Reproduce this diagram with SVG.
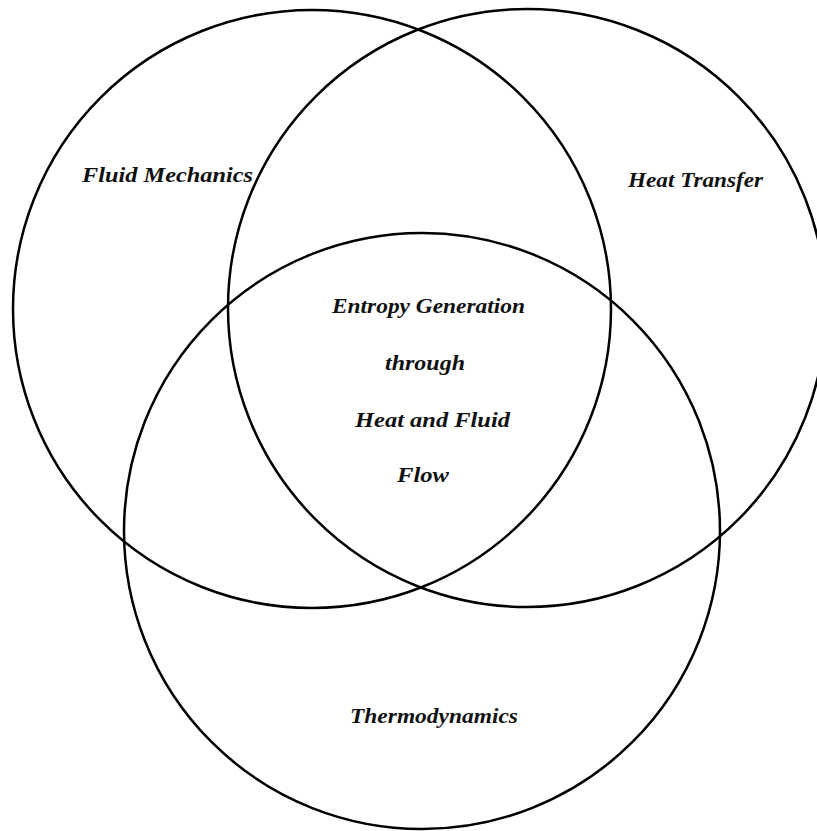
<svg xmlns="http://www.w3.org/2000/svg" width="817" height="831" viewBox="0 0 817 831">
<style>
.c{fill:none;stroke:#000;stroke-width:2.5}
.t{font-family:"Liberation Serif","Times New Roman",serif;font-weight:bold;font-style:italic;font-size:22px;fill:#111}
</style>
<rect width="817" height="831" fill="#fff"/>
<g id="fluid-mechanics">
<circle class="c" cx="312" cy="309" r="299"/>
<text class="t" x="82" y="182" textLength="171" lengthAdjust="spacingAndGlyphs">Fluid Mechanics</text>
</g>
<g id="heat-transfer">
<circle class="c" cx="527" cy="308" r="299"/>
<text class="t" x="628" y="187" textLength="135" lengthAdjust="spacingAndGlyphs">Heat Transfer</text>
</g>
<g id="thermodynamics">
<circle class="c" cx="422" cy="531" r="298"/>
<text class="t" x="350" y="723" textLength="168" lengthAdjust="spacingAndGlyphs">Thermodynamics</text>
</g>
<g id="entropy-generation">
<text class="t" x="332" y="313" textLength="193" lengthAdjust="spacingAndGlyphs">Entropy Generation</text>
<text class="t" x="385" y="370" textLength="80" lengthAdjust="spacingAndGlyphs">through</text>
<text class="t" x="355" y="427" textLength="155" lengthAdjust="spacingAndGlyphs">Heat and Fluid</text>
<text class="t" x="397" y="482" textLength="52" lengthAdjust="spacingAndGlyphs">Flow</text>
</g>
<g id="connectors"/>
</svg>
